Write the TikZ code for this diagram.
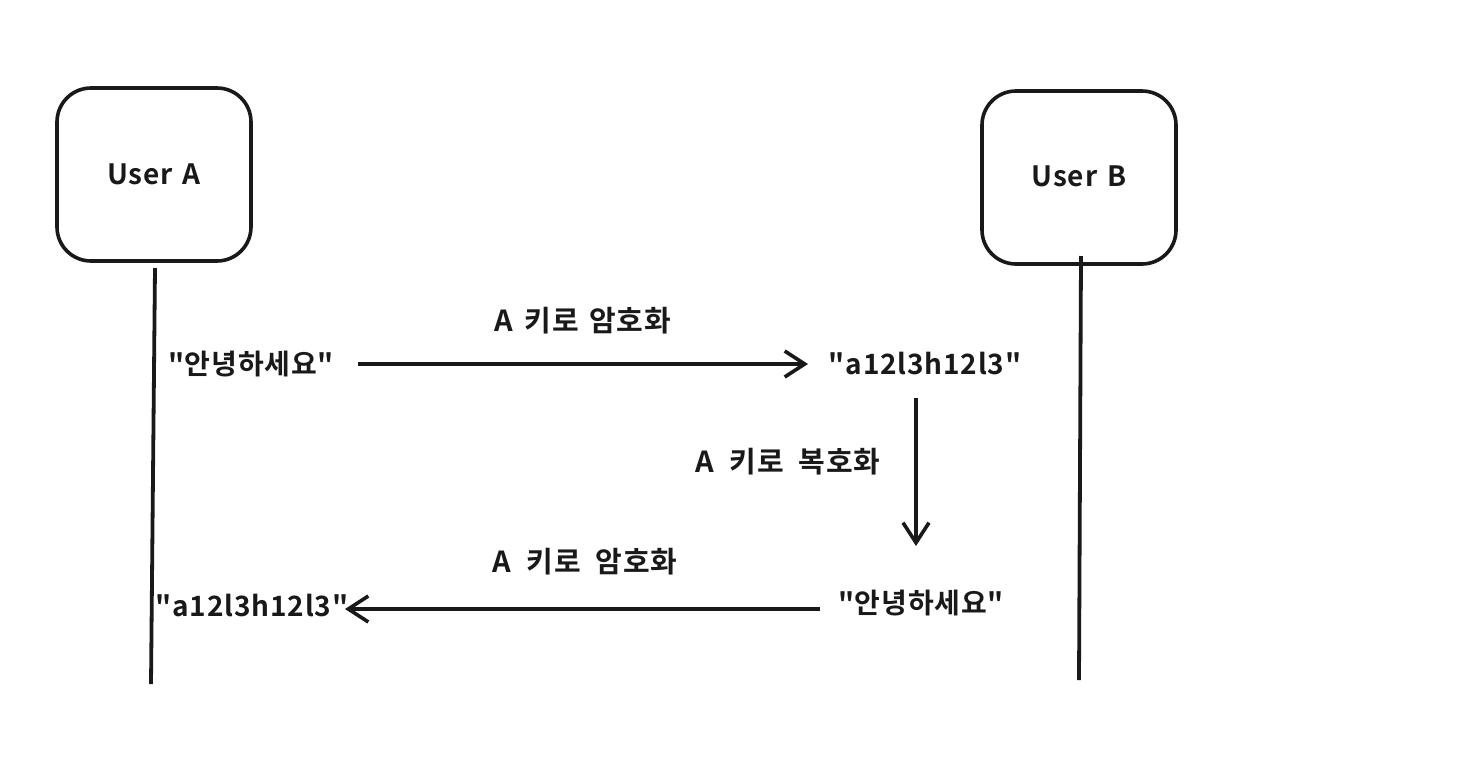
\documentclass[tikz,border=0pt]{standalone}
\usepackage{fontspec}
\setmainfont{Noto Sans CJK KR Bold}[Ligatures=TeXOff,WordSpace=1.4,LetterSpace=3]
\usetikzlibrary{arrows.meta}
\newcommand{\dq}{\char34}
\begin{document}
\begin{tikzpicture}[x=1pt,y=-1pt,
  actor/.style={draw=black!90, line width=3.6pt, rounded corners=34pt},
  life/.style={draw=black!90, line width=3.8pt},
  msg/.style={draw=black!90, line width=3.6pt, -{Straight Barb[length=20pt,width=26pt,line width=3.6pt]}},
  txt/.style={font=\fontsize{28}{30}\selectfont, text=black!90, inner sep=1pt},
  lbl/.style={font=\fontsize{29}{32}\selectfont, text=black!90, inner sep=1pt}]
\useasboundingbox (0,0) rectangle (1470,756);
\fill[white] (0,0) rectangle (1470,756);
% actors
\draw[actor] (57,88) rectangle (251,261);
\node[txt] (ua) at (154,174) {User A};
\draw[actor] (982,91) rectangle (1176,264);
\node[txt] (ub) at (1079,176) {User B};
% lifelines
\coordinate (a1) at (155,268); \coordinate (a2) at (151,684);
\coordinate (b1) at (1081,256); \coordinate (b2) at (1079,680);
\draw[life] (a1) -- (a2);
\draw[life] (b1) -- (b2);
% texts
\node[txt] (t1) at (251,364) {\dq 안녕하세요\dq};
\node[txt] (t2) at (925,364) {\dq a12l3h12l3\dq};
\node[txt] (t3) at (921,603) {\dq 안녕하세요\dq};
\node[txt] (t4) at (252,606) {\dq a12l3h12l3\dq};
% labels
\node[lbl] (l1) at (583,321) {\textit{A} 키로 암호화};
\node[lbl] (l2) at (788,462) {\textit{A} 키로 복호화};
\node[lbl] (l3) at (585,562) {\textit{A} 키로 암호화};
% arrows
\coordinate (m1s) at (358,364); \coordinate (m1e) at (808,364);
\draw[msg] (m1s) -- (m1e);
\coordinate (m2s) at (916,398); \coordinate (m2e) at (916,546);
\draw[msg] (m2s) -- (m2e);
\coordinate (m3s) at (820,609); \coordinate (m3e) at (345,609);
\draw[msg] (m3s) -- (m3e);
\end{tikzpicture}
\end{document}
